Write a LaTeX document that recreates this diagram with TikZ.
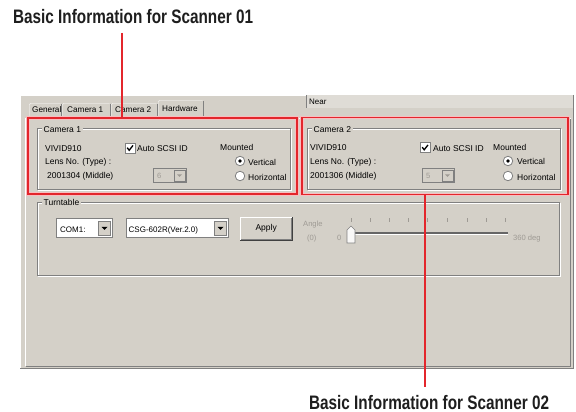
\documentclass[tikz,border=0pt]{standalone}
\usepackage{fontspec}
\setmainfont{Liberation Sans}
\definecolor{winface}{HTML}{D4D0C8}
\definecolor{winshadow}{HTML}{808080}
\definecolor{windark}{HTML}{404040}
\definecolor{nearface}{HTML}{DFDCD6}
\definecolor{grayedtext}{HTML}{9E9A94}
\definecolor{callred}{HTML}{E3262C}
\definecolor{captiontext}{HTML}{1E1E1E}
\begin{document}
\begin{tikzpicture}[x=1pt,y=-1pt,
  ui/.style={font=\fontsize{8.5}{10}\selectfont, inner sep=0pt, anchor=base west, text=black},
  tabtext/.style={ui, font=\fontsize{8.2}{10}\selectfont},
  uismall/.style={ui, font=\fontsize{8}{9.5}\selectfont},
  grayed/.style={ui, font=\fontsize{7.6}{9}\selectfont, text=grayedtext},
  grouplabel/.style={ui, fill=winface, inner xsep=1.5pt, inner ysep=1pt},
  caption/.style={font=\fontsize{19.5}{22}\selectfont\bfseries, xscale=0.785,
    inner sep=0pt, anchor=base west, text=captiontext},
  redbox/.style={draw=callred, line width=1.8pt, inner sep=0pt,
    preaction={draw=callred!30, line width=3.4pt}},
  leader/.style={draw=callred, line width=1.4pt},
  checkbox/.style={draw=winshadow, fill=white, line width=.8pt, minimum size=10pt, inner sep=0pt},
  radio/.style={circle, draw=winshadow, fill=white, line width=.8pt, minimum size=9.5pt, inner sep=0pt},
  combofield/.style={draw=winshadow, fill=white, line width=.8pt, inner sep=0pt, anchor=north west},
  combooff/.style={combofield, fill=winface},
  combobtn/.style={draw=winshadow, fill=winface, line width=.6pt, inner sep=0pt,
    minimum width=12pt, minimum height=14pt, anchor=north east},
  pushbtn/.style={fill=winface, inner sep=0pt, anchor=north west,
    font=\fontsize{8.5}{10}\selectfont},
]
\useasboundingbox (0,0) rectangle (576,412);
\fill[white] (0,0) rectangle (576,412);

% dialog window
\fill[winface] (20,95) rectangle (574,369);
\draw[white] (20.5,369) -- (20.5,95.5) -- (574,95.5);
\draw[winshadow] (573.5,95) -- (573.5,368.5) -- (20,368.5);

% status field at the top right
\fill[nearface] (306,95) rectangle (573,108);
\draw[winshadow] (306,95) -- (306,108);
\node[uismall] (near) at (309,105) {Near};

% tab pane
\draw[white] (25.5,366) -- (25.5,118.5) -- (158,118.5);
\draw[white] (204,118.5) -- (570.5,118.5);
\draw[winshadow] (570.5,118.5) -- (570.5,366.5) -- (25.5,366.5);

% inactive tabs
\foreach \a/\b in {29/62, 62/111, 111/158} {
  \draw[white] (\a+.5,118) -- (\a+.5,104.5) -- (\a+1.5,103.5) -- (\b-1.5,103.5);
  \draw[winshadow] (\b-.5,104.5) -- (\b-.5,118);
}
% selected tab
\fill[winface] (158,100) rectangle (204,119);
\draw[white] (158.5,118.5) -- (158.5,101.5) -- (159.5,100.5) -- (202.5,100.5);
\draw[winshadow] (203.5,101.5) -- (203.5,118.5);
\node[tabtext] (tgen) at (32,113) {General};
\node[tabtext] (tcam1) at (67,113) {Camera 1};
\node[tabtext] (tcam2) at (115,113) {Camera 2};
\node[tabtext] (thw) at (162,111) {Hardware};

% etched group frames
\foreach \xa/\ya/\xb/\yb in {37/128/292/191, 307/128/562/191, 37/202/561/277} {
  \draw[white] (\xa+1.5,\ya+1.5) rectangle (\xb-.5,\yb-.5);
  \draw[winshadow] (\xa+.5,\ya+.5) rectangle (\xb-1.5,\yb-1.5);
}
\node[grouplabel] (g1) at (42,132) {Camera 1};
\node[grouplabel] (g2) at (312,132) {Camera 2};
\node[grouplabel] (g3) at (42,205) {Turntable};

% ---- Camera 1
\node[ui] (m1) at (45,151) {VIVID910};
\node[ui] (l1) at (45,164.5) {Lens No. (Type) :};
\node[ui] (s1) at (47,178) {2001304 (Middle)};
\node[checkbox] (chk1) at (130,148) {};
\draw[line width=1.3pt] ([shift={(-2.8,-0.3)}]chk1.center) -- ([shift={(-0.8,2.3)}]chk1.center) -- ([shift={(3,-2.6)}]chk1.center);
\node[ui] (a1) at (137,151.5) {Auto SCSI ID};
\node[combooff, minimum width=33pt, minimum height=14pt] (cb1) at (153,168) {};
\node[combobtn, minimum height=11pt, minimum width=11pt] (cb1b) at ([shift={(-1.5,1.5)}]cb1.north east) {};
\fill[grayedtext] ([shift={(-2.5,-1)}]cb1b.center) -- ([shift={(2.5,-1)}]cb1b.center) -- ([shift={(0,1.6)}]cb1b.center) -- cycle;
\node[grayed] (cb1t) at (157,178.5) {6};
\node[ui] (mt1) at (220,150) {Mounted};
\node[radio] (r1v) at (240,161) {};
\fill (r1v.center) circle (1.9pt);
\node[radio] (r1h) at (240,176) {};
\node[ui] (v1) at (248,165) {Vertical};
\node[ui] (h1) at (248,180) {Horizontal};

% ---- Camera 2
\node[ui] (m2) at (310,150.5) {VIVID910};
\node[ui] (l2) at (310,164.5) {Lens No. (Type) :};
\node[ui] (s2) at (310,178) {2001306 (Middle)};
\node[checkbox] (chk2) at (425,147.5) {};
\draw[line width=1.3pt] ([shift={(-2.8,-0.3)}]chk2.center) -- ([shift={(-0.8,2.3)}]chk2.center) -- ([shift={(3,-2.6)}]chk2.center);
\node[ui] (a2) at (433,151.5) {Auto SCSI ID};
\node[combooff, minimum width=32pt, minimum height=14pt] (cb2) at (422,168) {};
\node[combobtn, minimum height=11pt, minimum width=11pt] (cb2b) at ([shift={(-1.5,1.5)}]cb2.north east) {};
\fill[grayedtext] ([shift={(-2.5,-1)}]cb2b.center) -- ([shift={(2.5,-1)}]cb2b.center) -- ([shift={(0,1.6)}]cb2b.center) -- cycle;
\node[grayed] (cb2t) at (426,178.5) {5};
\node[ui] (mt2) at (493,150) {Mounted};
\node[radio] (r2v) at (508,161) {};
\fill (r2v.center) circle (1.9pt);
\node[radio] (r2h) at (508,176) {};
\node[ui] (v2) at (517,164.5) {Vertical};
\node[ui] (h2) at (517,180) {Horizontal};

% ---- Turntable
\node[combofield, minimum width=56pt, minimum height=19pt] (com) at (56,218) {};
\node[combobtn] (comb) at ([shift={(-2,2.5)}]com.north east) {};
\fill ([shift={(-3,-1)}]comb.center) -- ([shift={(3,-1)}]comb.center) -- ([shift={(0,2)}]comb.center) -- cycle;
\node[uismall] (comt) at (60,232) {COM1:};
\node[combofield, minimum width=102pt, minimum height=19pt] (csg) at (126,218) {};
\node[combobtn] (csgb) at ([shift={(-2,2.5)}]csg.north east) {};
\fill ([shift={(-3,-1)}]csgb.center) -- ([shift={(3,-1)}]csgb.center) -- ([shift={(0,2)}]csgb.center) -- cycle;
\node[uismall] (csgt) at (128.5,232) {CSG-602R(Ver.2.0)};
\node[pushbtn, minimum width=52pt, minimum height=23pt] (apply) at (240,217) {Apply};
\draw[white] (apply.south west) -- (apply.north west) -- (apply.north east);
\draw[windark] (apply.north east) -- (apply.south east) -- (apply.south west);
\draw[winshadow] ([shift={(-1,1)}]apply.north east) -- ([shift={(-1,-1)}]apply.south east) -- ([shift={(1,-1)}]apply.south west);

% angle slider (disabled)
\node[grayed] (ang) at (303,226) {Angle};
\node[grayed] (ang0) at (307,240) {(0)};
\node[grayed] (zero) at (337,240) {0};
\node[grayed] (deg) at (513,240) {360 deg};
\foreach \x in {351,370,389,408,427,447,467,486,505}
  \draw[grayedtext, line width=.9pt] (\x,218) -- (\x,221.5);
\draw[color=winshadow!80!black, line width=2pt] (352,232.5) -- (508,232.5);
\draw[white, line width=.8pt] (352,234.4) -- (508,234.4);
\filldraw[fill=white!85!winface, draw=winshadow, line width=.7pt]
  (347,243) -- (347,230) -- (351,226) -- (355,230) -- (355,243) -- cycle;

% ---- callouts
\node[redbox, minimum width=269pt, minimum height=76pt] (scan1) at (162.5,156) {};
\node[redbox, minimum width=266pt, minimum height=77pt] (scan2) at (435,156) {};
\node[caption] (cap1) at (13,23.3) {Basic Information for Scanner 01};
\node[caption] (cap2) at (309,409) {Basic Information for Scanner 02};
\coordinate (lead1) at (122,33);
\coordinate (lead2) at (425,387);
\draw[leader] (lead1) -- (lead1 |- scan1.north);
\draw[leader] (scan2.south -| lead2) -- (lead2);
\end{tikzpicture}
\end{document}
